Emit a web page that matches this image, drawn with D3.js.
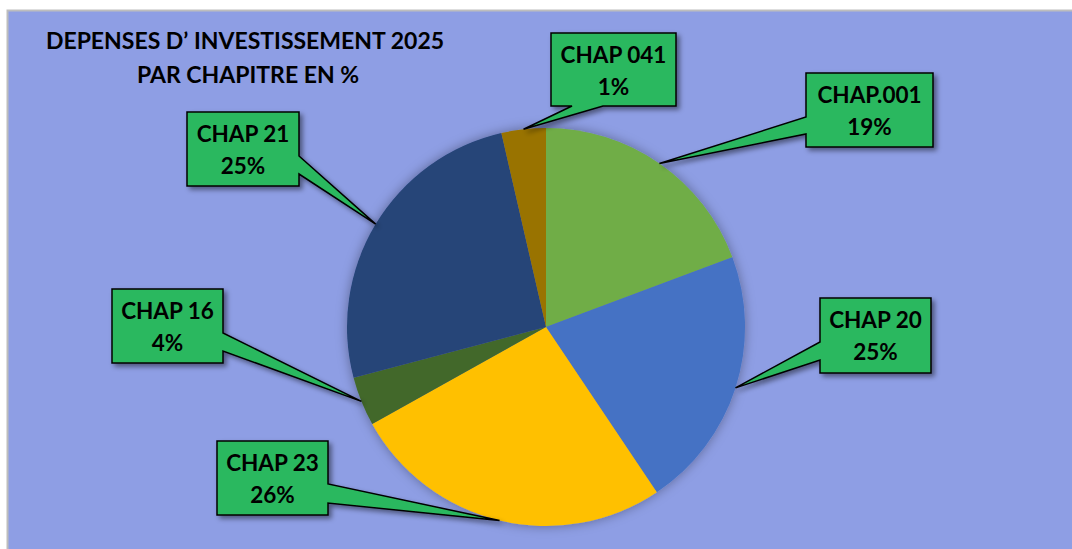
<!DOCTYPE html>
<html>
<head>
<meta charset="utf-8">
<script src="https://cdn.jsdelivr.net/npm/d3@7"></script>
<style>
  body { margin: 0; background: #fff; }
  text { font-family: Lato, "Open Sans", sans-serif; font-weight: bold; fill: #000; }
</style>
</head>
<body>
<svg id="chart" width="1072" height="549"></svg>
<script>
// slice data (share of the pie)
var chapters = ["CHAP.001", "CHAP 20", "CHAP 23", "CHAP 16", "CHAP 21", "CHAP 041"];
var shares = [19.3, 21.3, 26.3, 4.0, 25.5, 3.6];
// percentages as printed in the callouts
var pctLabels = ["19%", "25%", "26%", "4%", "25%", "1%"];
var colors = ["#70AD47", "#4472C4", "#FFC000", "#43682B", "#264478", "#997300"];

// callout boxes: position, size, which side the pointer leaves from, and where on that side
var callouts = [
  {x: 806, y: 73,  w: 127, h: 74, side: "left",   a: 44, b: 61},
  {x: 820, y: 298, w: 111, h: 75, side: "left",   a: 44, b: 62},
  {x: 217, y: 441, w: 111, h: 74, side: "right",  a: 43, b: 62},
  {x: 112, y: 289, w: 111, h: 74, side: "right",  a: 44, b: 62},
  {x: 187, y: 112, w: 112, h: 74, side: "right",  a: 44, b: 62},
  {x: 551, y: 33,  w: 125, h: 73, side: "bottom", a: 21, b: 52}
];

var svg = d3.select("#chart");
var cx = 546, cy = 327, radius = 199;

var defs = svg.append("defs");
var sh = defs.append("filter").attr("id", "boxShadow")
  .attr("x", "-20%").attr("y", "-20%").attr("width", "150%").attr("height", "150%");
sh.append("feDropShadow").attr("dx", 3).attr("dy", 3).attr("stdDeviation", 2.5)
  .attr("flood-color", "#000").attr("flood-opacity", 0.45);
var ps = defs.append("filter").attr("id", "pieShadow")
  .attr("x", "-20%").attr("y", "-20%").attr("width", "140%").attr("height", "140%");
ps.append("feDropShadow").attr("dx", 0).attr("dy", 0).attr("stdDeviation", 6)
  .attr("flood-color", "#000").attr("flood-opacity", 0.35);

// chart area
svg.append("rect")
  .attr("x", 7.5).attr("y", 10.5)
  .attr("width", 1080).attr("height", 560)
  .attr("fill", "#8E9EE4")
  .attr("stroke", "#BDBDBD").attr("stroke-width", 2);

// title
var title = svg.append("text").attr("text-anchor", "middle").style("font-size", "23px");
title.append("tspan").attr("x", 245).attr("y", 49).text("DEPENSES D\u2019 INVESTISSEMENT 2025");
title.append("tspan").attr("x", 248).attr("y", 83).text("PAR CHAPITRE EN %");

// pie
var pie = d3.pie().sort(null).value(function(d) { return d; });
var arcs = pie(shares);
var arc = d3.arc().innerRadius(0).outerRadius(radius);

var g = svg.append("g").attr("transform", "translate(" + cx + "," + cy + ")");
g.append("g").attr("filter", "url(#pieShadow)")
  .selectAll("path")
  .data(arcs)
  .enter()
  .append("path")
  .attr("d", arc)
  .attr("fill", function(d, i) { return colors[i]; });

// callouts with pointer to the middle of each slice edge
function calloutPath(c, tip) {
  var x0 = c.x, y0 = c.y, x1 = c.x + c.w, y1 = c.y + c.h;
  var p = d3.path();
  p.moveTo(x0, y0);
  p.lineTo(x1, y0);
  if (c.side === "right") {
    p.lineTo(x1, y0 + c.a); p.lineTo(tip[0], tip[1]); p.lineTo(x1, y0 + c.b);
  }
  p.lineTo(x1, y1);
  if (c.side === "bottom") {
    p.lineTo(x0 + c.b, y1); p.lineTo(tip[0], tip[1]); p.lineTo(x0 + c.a, y1);
  }
  p.lineTo(x0, y1);
  if (c.side === "left") {
    p.lineTo(x0, y0 + c.b); p.lineTo(tip[0], tip[1]); p.lineTo(x0, y0 + c.a);
  }
  p.closePath();
  return p.toString();
}

var lab = svg.append("g");
arcs.forEach(function(d, i) {
  var c = callouts[i];
  var mid = (d.startAngle + d.endAngle) / 2;
  var tip = [cx + radius * Math.sin(mid), cy - radius * Math.cos(mid)];
  lab.append("path")
    .attr("d", calloutPath(c, tip))
    .attr("fill", "#2CB85E")
    .attr("stroke", "#000")
    .attr("stroke-width", 1.5)
    .attr("stroke-linejoin", "miter")
    .attr("filter", "url(#boxShadow)");
  var t = lab.append("text").attr("text-anchor", "middle").style("font-size", "22.5px");
  t.append("tspan").attr("x", c.x + c.w / 2).attr("y", c.y + 30).text(chapters[i]);
  t.append("tspan").attr("x", c.x + c.w / 2).attr("y", c.y + 62).text(pctLabels[i]);
});
</script>
</body>
</html>
